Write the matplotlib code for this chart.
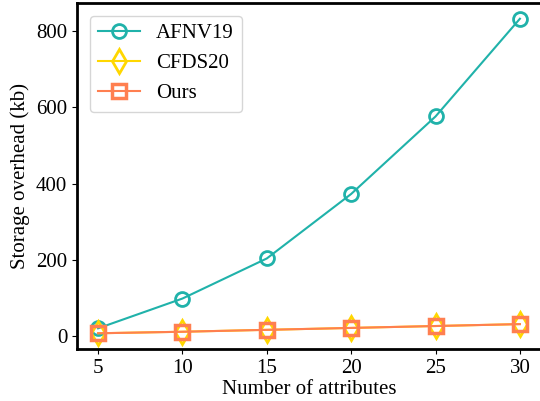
import matplotlib
matplotlib.use("Agg")
import matplotlib.pyplot as plt

# Data
attributes = [5, 10, 15, 20, 25, 30]
afnv19 = [21, 99, 204, 373, 576, 832]
cfds20 = [8, 12, 17, 22, 27, 32]
ours = [8, 12, 17, 22, 27, 32]

plt.rcParams["font.family"] = ["Liberation Serif", "DejaVu Serif"]
plt.rcParams["font.size"] = 15

fig = plt.figure(figsize=(5.40, 4.01), dpi=100)
ax = fig.add_axes([77 / 540, 1 - 349 / 401, 464 / 540, 346 / 401])

ax.plot(attributes, afnv19, "-o", color="#20B2AA", mfc="none",
        ms=10, mew=2, lw=1.5, label="AFNV19")
ax.plot(attributes, cfds20, "-d", color="#FFD700", mfc="none",
        ms=12, mew=2, lw=1.5, label="CFDS20")
ax.plot(attributes, ours, "-s", color="#FF7F50", mfc="none",
        ms=10, mew=2.5, lw=1.5, label="Ours")

ax.set_xticks(attributes)
ax.set_yticks([0, 200, 400, 600, 800])
ax.set_xlabel("Number of attributes", labelpad=2)
ax.set_ylabel("Storage overhead (kb)", labelpad=4)

for s in ax.spines.values():
    s.set_linewidth(2)

ax.legend(loc="upper left", fontsize=15, borderaxespad=0.6)

fig.savefig("out.png", dpi=100)
